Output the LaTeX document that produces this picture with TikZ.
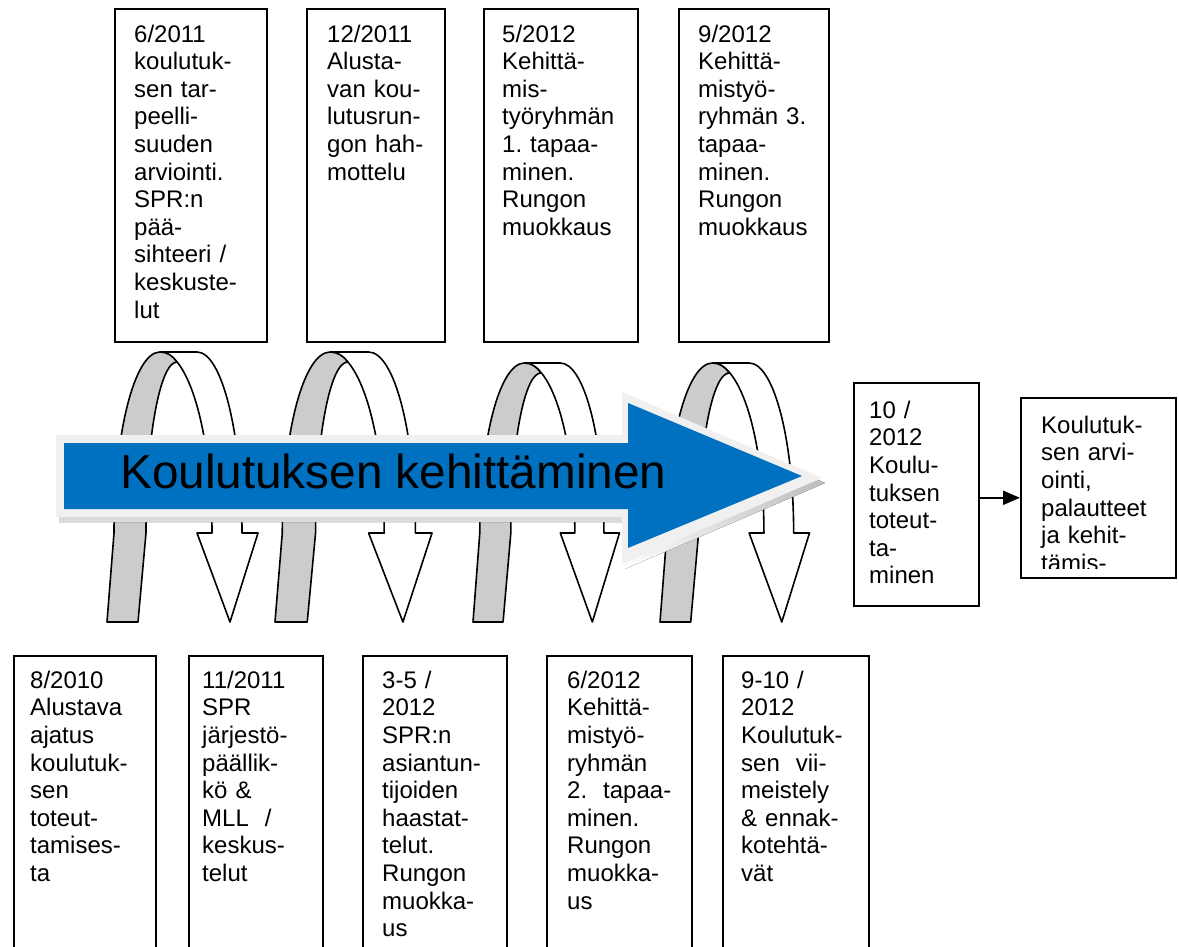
\documentclass[tikz,border=0pt]{standalone}
\usepackage{fontspec}
\setmainfont{Liberation Sans}
\usetikzlibrary{arrows.meta}
\frenchspacing
\definecolor{arrblue}{HTML}{0070C0}
\definecolor{ribgray}{HTML}{CCCCCC}
\definecolor{glow}{HTML}{F0F0F0}
\definecolor{shade}{HTML}{B4B4B4}
\tikzset{
  boxst/.style={draw=black, line width=1.6pt, inner sep=0pt, anchor=north west},
  txt/.style={anchor=north west, inner sep=0pt, text width=170pt, align=left,
    font=\fontsize{24}{27.6}\selectfont\frenchspacing},
  ribw/.style={draw=black, line width=1.6pt, fill=white, line join=round},
  ribg/.style={draw=black, line width=1.6pt, fill=ribgray, line join=round},
  conn/.style={draw=black, line width=1.8pt, -{Triangle[length=17pt,width=14pt]}},
}
\newcommand\ribbonloop[3]{%
  \begin{scope}[shift={(#1,0)}, xscale=#3]
    \pgfmathsetmacro\Hh{533-#2}
    \pgfmathsetmacro\Cc{0.552*\Hh}
    \pgfmathsetmacro\Ci{533-0.552*(\Hh-10)}
    \path[ribw] (53,#2) -- (90,#2) .. controls (114.8,#2) and (135,{533-\Cc}) .. (135,533)
      -- (151,533) -- (123,622) -- (90,533) -- (105,533)
      .. controls (105,{533-\Cc}) and (81.7,#2) .. (53,#2) -- cycle;
    \path[ribg] (0,622) -- (7,533) .. controls (7,{533-\Cc}) and (27.6,#2) .. (53,#2)
      .. controls (60,#2) and (66,{#2+4}) .. (70,{#2+10})
      .. controls (52.9,{#2+10}) and (39,\Ci) .. (39,533) -- (31,622) -- cycle;
  \end{scope}}
\begin{document}
\begin{tikzpicture}[x=1pt,y=-1pt]
\useasboundingbox (0,0) rectangle (1179,947);
\clip (0,0) rectangle (1179,947);
\fill[white] (0,0) rectangle (1179,947);

% ribbon loops
\ribbonloop{107}{352}{1}
\ribbonloop{275}{352}{1.04}
\ribbonloop{473}{363}{0.97}
\ribbonloop{660}{363}{0.99}

% big arrow
\fill[shade, shift={(3,5)}] (56,435) -- (622,435) -- (622,392) -- (822,478) -- (622,564) -- (622,517) -- (56,517) -- cycle;
\fill[glow] (56,435) -- (622,435) -- (622,392) -- (822,478) -- (622,564) -- (622,517) -- (56,517) -- cycle;
\fill[arrblue] (64,443) -- (628,443) -- (628,403) -- (802,476) -- (628,548) -- (628,509) -- (64,509) -- cycle;
\node[anchor=base west, inner sep=0pt, font=\fontsize{47.7}{52}\selectfont] (title) at (120,488) {Koulutuksen kehittäminen};

% top boxes
\node[boxst, minimum width=152pt, minimum height=333pt] (t1) at (114,8) {};
\node[boxst, minimum width=138pt, minimum height=333pt] (t2) at (306,8) {};
\node[boxst, minimum width=154pt, minimum height=333pt] (t3) at (483,8) {};
\node[boxst, minimum width=150pt, minimum height=333pt] (t4) at (678,8) {};
\node[txt] (t1x) at (134,22) {\rule{0pt}{20pt}6/2011\\koulutuk-\\sen tar-\\peelli-\\suuden\\arviointi.\\SPR:n\\pää-\\sihteeri /\\keskuste-\\lut};
\node[txt] (t2x) at (327,22) {\rule{0pt}{20pt}12/2011\\Alusta-\\van kou-\\lutusrun-\\gon hah-\\mottelu};
\node[txt] (t3x) at (502,22) {\rule{0pt}{20pt}5/2012\\Kehittä-\\mis-\\työryhmän\\1. tapaa-\\minen.\\Rungon\\muokkaus};
\node[txt] (t4x) at (698,22) {\rule{0pt}{20pt}9/2012\\Kehittä-\\mistyö-\\ryhmän 3.\\tapaa-\\minen.\\Rungon\\muokkaus};

% bottom boxes
\node[boxst, minimum width=142pt, minimum height=300pt] (b1) at (13,655) {};
\node[boxst, minimum width=134pt, minimum height=300pt] (b2) at (188,655) {};
\node[boxst, minimum width=144pt, minimum height=300pt] (b3) at (362,655) {};
\node[boxst, minimum width=145pt, minimum height=300pt] (b4) at (546,655) {};
\node[boxst, minimum width=146pt, minimum height=300pt] (b5) at (722,655) {};
\node[txt] (b1x) at (30,668) {\rule{0pt}{20pt}8/2010\\Alustava\\ajatus\\koulutuk-\\sen\\toteut-\\tamises-\\ta};
\node[txt] (b2x) at (202,668) {\rule{0pt}{20pt}11/2011\\SPR\\järjestö-\\päällik-\\kö \&\\MLL\ \ /\\keskus-\\telut};
\node[txt] (b3x) at (382,668) {\rule{0pt}{20pt}3-5 /\\2012\\SPR:n\\asiantun-\\tijoiden\\haastat-\\telut.\\Rungon\\muokka-\\us};
\node[txt] (b4x) at (567,668) {\rule{0pt}{20pt}6/2012\\Kehittä-\\mistyö-\\ryhmän\\2.\ \ tapaa-\\minen.\\Rungon\\muokka-\\us};
\node[txt] (b5x) at (741,668) {\rule{0pt}{20pt}9-10 /\\2012\\Koulutuk-\\sen\ \ vii-\\meistely\\\& ennak-\\kotehtä-\\vät};

% right boxes
\node[boxst, minimum width=125pt, minimum height=223pt] (r1) at (853,382) {};
\node[boxst, minimum width=155pt, minimum height=180pt] (r2) at (1020,397) {};
\node[txt] (r1x) at (869,398) {\rule{0pt}{20pt}10 /\\2012\\Koulu-\\tuksen\\toteut-\\ta-\\minen};
\begin{scope}
  \clip (1020,397) rectangle (1175,568);
  \node[txt] (r2x) at (1041,413) {\rule{0pt}{20pt}Koulutuk-\\sen arvi-\\ointi,\\palautteet\\ja kehit-\\tämis-};
\end{scope}
\draw[conn] ([yshift=-3.5pt]r1.east) -- ([yshift=-10pt]r2.west);
\end{tikzpicture}
\end{document}
